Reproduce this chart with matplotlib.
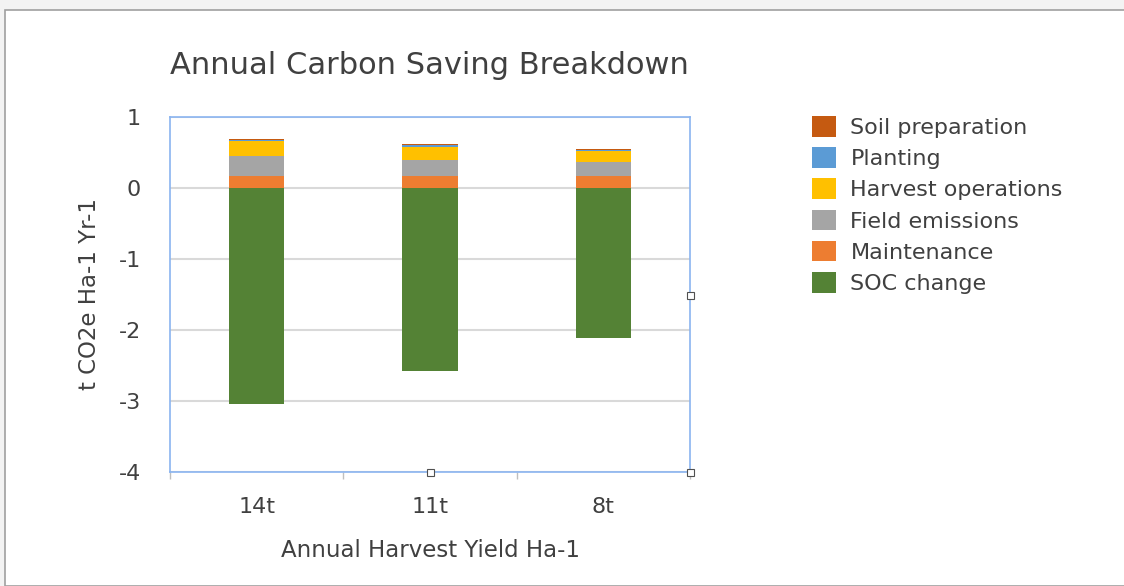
import matplotlib.pyplot as plt
import matplotlib.patches as mpatches
import numpy as np

# Data
categories = ["14t", "11t", "8t"]
soc_change = [-3.04, -2.58, -2.11]
maintenance = [0.17, 0.17, 0.17]
field_emissions = [0.28, 0.23, 0.19]
harvest_ops = [0.21, 0.18, 0.155]
planting = [0.015, 0.02, 0.02]
soil_prep = [0.02, 0.02, 0.02]

series = [
    ("Maintenance", maintenance, "#ED7D31"),
    ("Field emissions", field_emissions, "#A5A5A5"),
    ("Harvest operations", harvest_ops, "#FFC000"),
    ("Planting", planting, "#5B9BD5"),
    ("Soil preparation", soil_prep, "#C55A11"),
]

W, H = 1124, 586
fig = plt.figure(figsize=(W / 100, H / 100), dpi=100)
fig.patch.set_facecolor("#F3F3F3")
# white chart sheet with grey border
fig.patches.append(mpatches.Rectangle((5 / W, 0), 1.0, (H - 10) / H, transform=fig.transFigure,
                                      facecolor="white", edgecolor="#A0A0A0", linewidth=1.2, zorder=-5))

ax = fig.add_axes([170 / W, (H - 472) / H, 520 / W, 355 / H])
ax.set_facecolor("white")

x = np.arange(len(categories))
width = 0.32

ax.bar(x, soc_change, width, color="#548235", zorder=3, label="SOC change")
bottom = np.zeros(len(categories))
for name, vals, color in series:
    ax.bar(x, vals, width, bottom=bottom, color=color, zorder=3, label=name)
    bottom += np.array(vals)

ax.set_xlim(-0.5, 2.5)
ax.set_ylim(-4, 1)
ax.set_yticks([1, 0, -1, -2, -3, -4])
ax.set_yticklabels(["1", "0", "-1", "-2", "-3", "-4"])
ax.yaxis.grid(True, color="#D9D9D9", linewidth=1.5, zorder=0)
ax.set_axisbelow(True)
ax.tick_params(axis="y", length=0, pad=21, labelsize=16, labelcolor="#404040")

ax.set_xticks(x)
ax.set_xticklabels(categories)
ax.tick_params(axis="x", length=0, pad=18, labelsize=16, labelcolor="#404040")
# minor ticks at category boundaries
ax.set_xticks([-0.5, 0.5, 1.5, 2.5], minor=True)
ax.tick_params(axis="x", which="minor", length=5, color="#BFBFBF", width=1)

for spine in ax.spines.values():
    spine.set_color("#8AB4F0")
    spine.set_linewidth(1.2)

ax.set_ylabel("t CO2e Ha-1 Yr-1", fontsize=16.5, color="#404040", labelpad=13)
ax.set_xlabel("Annual Harvest Yield Ha-1", fontsize=16.5, color="#404040", labelpad=16)
fig.text(170 / W, (H - 66) / H, "Annual Carbon Saving Breakdown", fontsize=22,
         color="#404040", ha="left", va="center")

# selection handles
for hx, hy in [(690, 295), (430, 472), (690, 472)]:
    fig.add_artist(mpatches.Rectangle(((hx - 3.5) / W, (H - hy - 3.5) / H), 7 / W, 7 / H,
                                      transform=fig.transFigure, facecolor="white",
                                      edgecolor="#505050", linewidth=0.8, zorder=10))

handles, labels = ax.get_legend_handles_labels()
leg = fig.legend(handles[::-1], labels[::-1], loc="upper left",
                 bbox_to_anchor=(792 / W, (H - 96) / H), frameon=False,
                 fontsize=16, handlelength=1.1, handleheight=1.05,
                 labelspacing=0.42, handletextpad=0.63)
for t in leg.get_texts():
    t.set_color("#404040")

fig.savefig("out.png", dpi=100)
